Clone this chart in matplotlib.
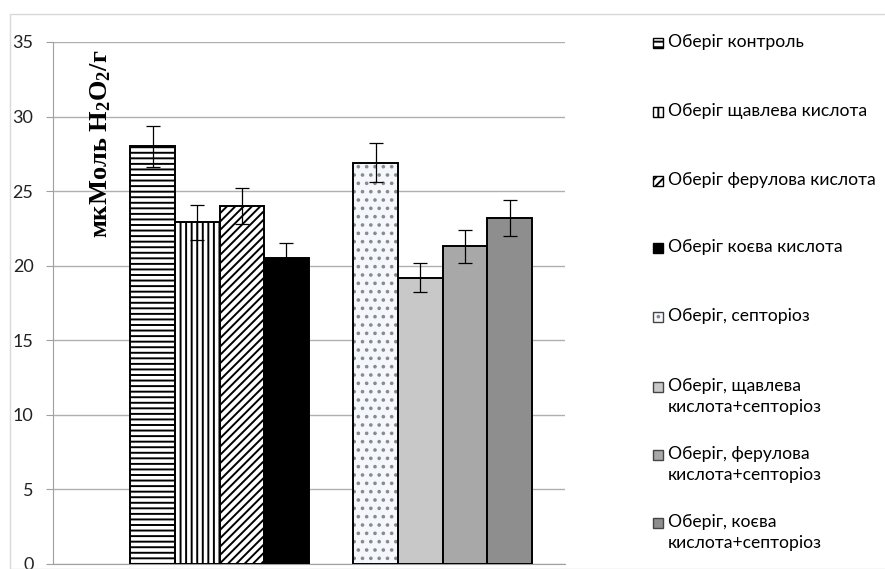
import numpy as np
import matplotlib.pyplot as plt
from matplotlib.patches import Rectangle

plt.rcParams["font.family"] = ["Lato", "DejaVu Sans"]
plt.rcParams["hatch.linewidth"] = 1.4
plt.rcParams["mathtext.fontset"] = "custom"
plt.rcParams["mathtext.rm"] = "Liberation Serif:bold"
plt.rcParams["mathtext.it"] = "Liberation Serif:bold"
plt.rcParams["mathtext.bf"] = "Liberation Serif:bold"

# =========================
# Data
# =========================

labels = [
    "Оберіг контроль",
    "Оберіг щавлева кислота",
    "Оберіг ферулова кислота",
    "Оберіг коєва кислота",
    "Оберіг, септоріоз",
    "Оберіг, щавлева\nкислота+септоріоз",
    "Оберіг, ферулова\nкислота+септоріоз",
    "Оберіг, коєва\nкислота+септоріоз",
]
values = [28.0, 22.9, 24.0, 20.5, 26.9, 19.2, 21.3, 23.2]
errors = [1.4, 1.15, 1.2, 1.05, 1.3, 0.95, 1.1, 1.2]

yticks = [0, 5, 10, 15, 20, 25, 30, 35]

# slots: 4 bars, one empty slot, 4 bars
positions = [0, 1, 2, 3, 5, 6, 7, 8]

faces = ["white", "white", "white", "black", "#f4f8fc", "#c8c8c8", "#a8a8a8", "#8e8e8e"]
hatches = ["---", "|||", "////", None, "..", None, None, None]

# legend text y positions (pixels from top)
legend_y = [43, 112, 181, 248, 317, 387, 455, 523]

W, H = 885, 569
fig = plt.figure(figsize=(W / 100, H / 100), dpi=100)

# light outer frame
fig.add_artist(Rectangle((10 / W, 0), 1.0, 1 - 14 / H, transform=fig.transFigure,
                         fill=False, edgecolor="#d9d9d9", linewidth=1.0))

ax = fig.add_axes([53 / W, 1 - 564 / H, (565 - 53) / W, (564 - 42) / H])

for i, (x, v, e) in enumerate(zip(positions, values, errors)):
    if i == 4:
        # dotted fill with gray dots, then black outline
        ax.bar(x, v, width=1.0, color=faces[i], edgecolor="#8a8a8a",
               hatch=hatches[i], linewidth=0, zorder=3)
        ax.bar(x, v, width=1.0, fill=False, edgecolor="black",
               linewidth=1.4, zorder=4)
    else:
        ax.bar(x, v, width=1.0, color=faces[i], edgecolor="black",
               hatch=hatches[i], linewidth=1.4, zorder=3)
    ax.errorbar(x, v, yerr=e, fmt="none", ecolor="black", elinewidth=0.9,
                capsize=5, capthick=0.9, zorder=5)

ax.set_xlim(-2.23, 9.24)
ax.set_ylim(0, 35)
ax.set_yticks(yticks)
ax.set_xticks([])
ax.yaxis.grid(True, color="#b0b0b0", linewidth=1.0, zorder=0)
ax.set_axisbelow(True)

for side in ["top", "right"]:
    ax.spines[side].set_visible(False)
ax.spines["left"].set_color("#a0a0a0")
ax.spines["bottom"].set_color("#a0a0a0")
ax.tick_params(axis="y", length=5, color="#a0a0a0", labelsize=13,
               labelcolor="#222222", pad=9)

ax.text(0.093, 0.985, "мкМоль H$_2$O$_2$/г", transform=ax.transAxes,
        rotation=90, ha="center", va="top", fontsize=19,
        fontweight="bold", family="Liberation Serif")

# =========================
# Legend (drawn by hand)
# =========================

for i, (lab, y) in enumerate(zip(labels, legend_y)):
    if i == 4:
        box = Rectangle((653 / W, 1 - (y + 5) / H), 10 / W, 10 / H,
                        transform=fig.transFigure, facecolor=faces[i],
                        edgecolor="#8a8a8a", hatch="..", linewidth=0)
        fig.add_artist(box)
        box = Rectangle((653 / W, 1 - (y + 5) / H), 10 / W, 10 / H,
                        transform=fig.transFigure, fill=False,
                        edgecolor="#444444", linewidth=1.0)
    else:
        box = Rectangle((653 / W, 1 - (y + 5) / H), 10 / W, 10 / H,
                        transform=fig.transFigure, facecolor=faces[i],
                        edgecolor="black" if i < 4 else "#444444",
                        hatch=hatches[i], linewidth=1.0)
    fig.add_artist(box)
    fig.text(668 / W, 1 - (y - 9) / H, lab, ha="left", va="top",
             fontsize=12.6, color="black", linespacing=1.35)

fig.savefig("out.png", dpi=100)
